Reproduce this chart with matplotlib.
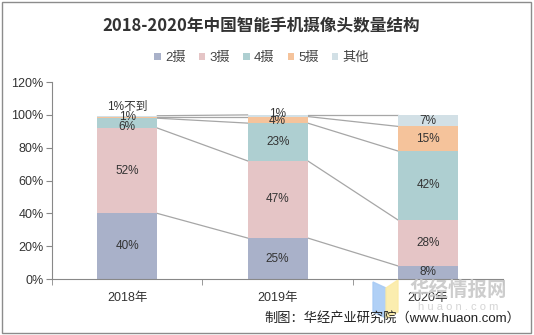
import matplotlib
matplotlib.use("Agg")
import matplotlib.pyplot as plt
from matplotlib.patches import Rectangle, Polygon
import numpy as np

plt.rcParams['font.family'] = ['Liberation Sans', 'Noto Sans CJK SC', 'DejaVu Sans']

years = ['2018年', '2019年', '2020年']
series = ['2摄', '3摄', '4摄', '5摄', '其他']
cam2 = [40, 25, 8]
cam3 = [52, 47, 28]
cam4 = [6, 23, 42]
cam5 = [1, 4, 15]
other = [0.5, 1, 7]
labels = [
    ['40%', '25%', '8%'],
    ['52%', '47%', '28%'],
    ['6%', '23%', '42%'],
    ['1%', '4%', '15%'],
    ['1%不到', '1%', '7%'],
]
colors = ['#A9B1C9', '#E5C5C6', '#AECFD1', '#F5C39B', '#D2E0E6']

data = np.array([cam2, cam3, cam4, cam5, other], dtype=float)

fig = plt.figure(figsize=(5.34, 3.35), dpi=100)
ax = fig.add_axes([0.0974, 0.167, 0.845, 0.588])

x = np.arange(len(years))
w = 0.40
bottom = np.zeros(len(years))
cum = []
offsets = {(4, 0): 104.6, (2, 0): 92.8, (3, 0): 98.8, (4, 1): 100.6, (3, 1): 96.4}
for i, s in enumerate(series):
    ax.bar(x, data[i], w, bottom=bottom, color=colors[i], label=s, zorder=2)
    for j in range(len(years)):
        yc = offsets.get((i, j), bottom[j] + data[i][j] / 2)
        ax.text(x[j], yc, labels[i][j], ha='center', va='center',
                fontsize=8.5, color='#333333', zorder=4)
    bottom = bottom + data[i]
    cum.append(bottom.copy())

# series lines
for c in cum:
    for j in range(len(years) - 1):
        ax.plot([x[j] + w / 2, x[j + 1] - w / 2], [c[j], c[j + 1]],
                color='#A6A6A6', lw=0.9, zorder=1)

ax.set_xlim(-0.5, 2.5)
ax.set_ylim(0, 120)
ax.set_yticks(np.arange(0, 121, 20))
ax.set_yticklabels([f'{v}%' for v in range(0, 121, 20)], fontsize=9, color='#333333')
ax.set_xticks(x)
ax.set_xticklabels(years, fontsize=9, color='#333333')
ax.set_xticks([-0.5, 0.5, 1.5, 2.5], minor=True)
ax.tick_params(axis='x', which='major', length=0, pad=9)
ax.tick_params(axis='x', which='minor', length=4, color='#888888', direction='out')
ax.tick_params(axis='y', length=4, color='#888888', direction='out', pad=2)
for sp in ['top', 'right']:
    ax.spines[sp].set_visible(False)
ax.spines['left'].set_color('#888888')
ax.spines['bottom'].set_color('#888888')

fig.text(0.49, 0.925, '2018-2020年中国智能手机摄像头数量结构', ha='center', va='center',
         fontsize=12, fontweight='bold', color='#333333',
         family=['Noto Sans CJK SC', 'DejaVu Sans'])

leg = fig.legend(loc='center', bbox_to_anchor=(0.49, 0.827), ncol=5, frameon=False,
                 fontsize=9.5, handlelength=0.5, handleheight=0.5, handletextpad=0.3,
                 columnspacing=1.0)
for t in leg.get_texts():
    t.set_color('#444444')

# watermark
fig.patches.append(Polygon([(373/534, 1-282/335), (386/534, 1-288/335), (386/534, 1-318/335), (373/534, 1-312/335)],
                           closed=True, transform=fig.transFigure, color='#A8CBF5', alpha=0.9, zorder=0))
fig.patches.append(Polygon([(386/534, 1-288/335), (398/534, 1-280/335), (398/534, 1-312/335), (386/534, 1-318/335)],
                           closed=True, transform=fig.transFigure, color='#FBEBA6', alpha=0.9, zorder=0))
fig.text(458/534, 1-290/335, '华经情报网', ha='center', va='center', fontsize=14,
         fontweight='bold', color='#C8C8C8', alpha=0.9,
         family=['Noto Sans CJK SC', 'DejaVu Sans'])
fig.text(458/534, 1-307/335, 'h u a o n . c o m', ha='center', va='center', fontsize=8,
         color='#D5D5D5')

fig.text(0.975, 1-318/335, '制图：华经产业研究院（www.huaon.com）', ha='right', va='center',
         fontsize=9.5, color='#222222')

fig.patches.append(Rectangle((0.004, 0.006), 0.991, 0.988, transform=fig.transFigure,
                             fill=False, edgecolor='#8C8C8C', lw=1.0))

fig.savefig('out.png', dpi=100)
